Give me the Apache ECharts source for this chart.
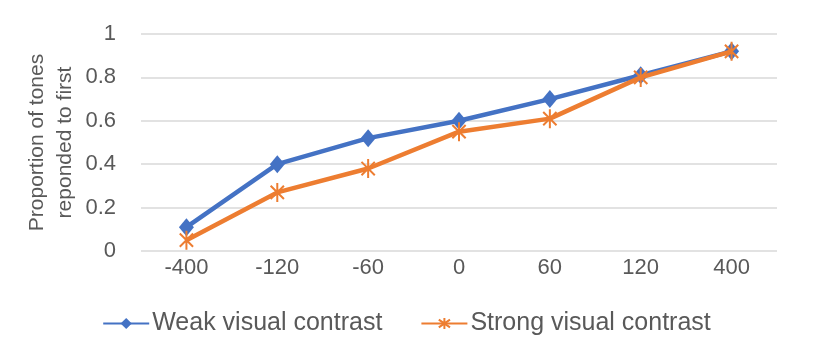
<!DOCTYPE html>
<html><head><meta charset="utf-8">
<script src="https://cdn.jsdelivr.net/npm/echarts@6/dist/echarts.min.js"></script>
<style>html,body{margin:0;padding:0;background:#fff}#c{width:813px;height:355px}</style>
</head><body><div id="c"></div>
<script>
const categories = ['-400', '-120', '-60', '0', '60', '120', '400'];
const weakValues = [0.11, 0.40, 0.52, 0.60, 0.70, 0.81, 0.92];
const strongValues = [0.05, 0.27, 0.38, 0.55, 0.61, 0.80, 0.92];
const yTicks = [0, 0.2, 0.4, 0.6, 0.8, 1];

const FONT = 'Liberation Sans';
const TXT = '#595959';
const asterisk = 'path://M-7,-7L7,7M-7,7L7,-7M0,-10L0,10';

const chart = echarts.init(document.getElementById('c'));
chart.setOption({
  animation: false,
  grid: {left: 141, right: 36, top: 34, bottom: 104},
  legend: {
    bottom: 14, left: 'center', itemGap: 38, itemWidth: 46, itemHeight: 14,
    textStyle: {fontFamily: FONT, fontSize: 25, color: TXT, padding: [0, 0, 0, -2]},
    data: ['Weak visual contrast', 'Strong visual contrast']
  },
  xAxis: {
    type: 'category', data: categories, boundaryGap: true,
    axisLine: {show: false}, axisTick: {show: false},
    axisLabel: {fontFamily: FONT, fontSize: 22, color: TXT, margin: 6}
  },
  yAxis: {
    type: 'value', min: 0, max: 1, interval: 0.2,
    name: 'Proportion of tones\nreponded to first', nameLocation: 'middle', nameGap: 62,
    nameMoveOverlap: false,
    nameTextStyle: {fontFamily: FONT, fontSize: 21, color: TXT, lineHeight: 28},
    axisLine: {show: false}, axisTick: {show: false},
    splitLine: {lineStyle: {color: '#d9d9d9', width: 1.5}},
    axisLabel: {fontFamily: FONT, fontSize: 22, color: TXT, margin: 25,
      formatter: v => (yTicks.includes(+v.toFixed(1)) ? String(+v.toFixed(1)) : '')}
  },
  series: [
    {
      name: 'Weak visual contrast', type: 'line', data: weakValues,
      symbol: 'diamond', symbolSize: [15, 18],
      lineStyle: {color: '#4472C4', width: 4.5},
      itemStyle: {color: '#4472C4'}, z: 2
    },
    {
      name: 'Strong visual contrast', type: 'line', data: strongValues,
      symbol: asterisk, symbolSize: [19, 19], symbolKeepAspect: true,
      lineStyle: {color: '#ED7D31', width: 4.5},
      itemStyle: {color: 'rgba(0,0,0,0)', borderColor: '#ED7D31', borderWidth: 2}, z: 3
    }
  ]
});
</script></body></html>
